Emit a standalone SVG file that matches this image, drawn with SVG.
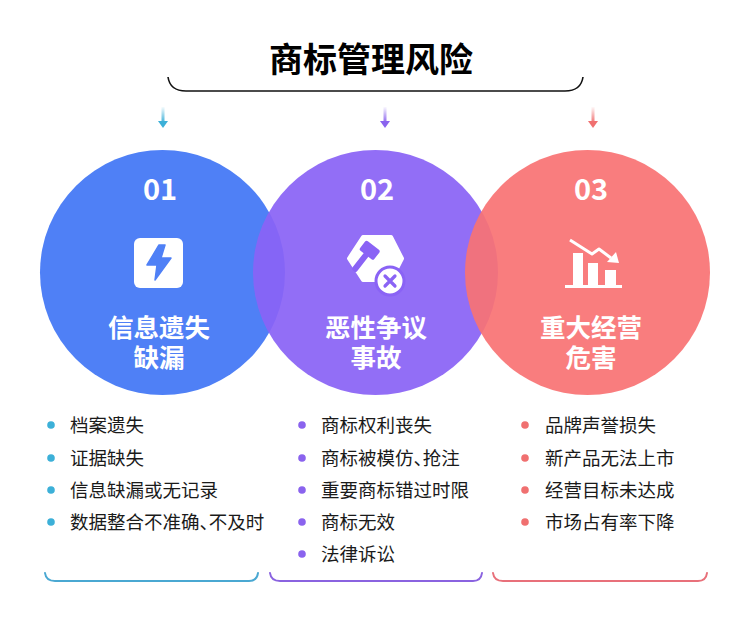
<svg xmlns="http://www.w3.org/2000/svg" width="750" height="621" viewBox="0 0 750 621">
<defs>
<style>
.cjk{font-family:"Noto Sans CJK SC","Noto Sans",sans-serif}
.num{font-family:"Noto Sans CJK SC","Noto Sans",sans-serif;font-weight:700;font-size:29px;fill:#fff;text-anchor:middle}
.ct{font-family:"Noto Sans CJK SC","Noto Sans",sans-serif;font-weight:700;font-size:25.5px;fill:#fff;text-anchor:middle}
.li{font-family:"Noto Sans CJK SC","Noto Sans",sans-serif;font-size:18.5px;fill:#1a1a1a}
.hp{font-feature-settings:"halt"}
.br{fill:none;stroke-width:2;stroke-linecap:round}
</style>
<linearGradient id="gc" x1="0" y1="0" x2="0" y2="1"><stop offset="0" stop-color="#3cb0d8" stop-opacity="0.05"/><stop offset="1" stop-color="#3cb0d8"/></linearGradient>
<linearGradient id="gp" x1="0" y1="0" x2="0" y2="1"><stop offset="0" stop-color="#8a63ee" stop-opacity="0.05"/><stop offset="1" stop-color="#8a63ee"/></linearGradient>
<linearGradient id="gr" x1="0" y1="0" x2="0" y2="1"><stop offset="0" stop-color="#f07070" stop-opacity="0.05"/><stop offset="1" stop-color="#f07070"/></linearGradient>
</defs>
<rect width="750" height="621" fill="#fff"/>

<g id="title">
<text x="371" y="72" class="cjk" font-size="34" font-weight="700" text-anchor="middle" fill="#000">商标管理风险</text>
<path d="M168,77 Q170,91 186,91 L565,91 Q581,91 583,77" fill="none" stroke="#111" stroke-width="1.6"/>
</g>

<g id="connectors">
<rect x="161.5" y="107" width="3" height="16" fill="url(#gc)"/>
<path d="M158,121 L168,121 L163,128 Z" fill="#3cb0d8"/>
<rect x="383.5" y="107" width="3" height="16" fill="url(#gp)"/>
<path d="M380,121 L390,121 L385,128 Z" fill="#8a63ee"/>
<rect x="591.5" y="107" width="3" height="16" fill="url(#gr)"/>
<path d="M588,121 L598,121 L593,128 Z" fill="#f07070"/>
</g>

<g id="node1">
<circle cx="162.5" cy="272.5" r="122.5" fill="#4f80f6"/>
<text x="160" y="200" class="num">01</text>
<rect x="134" y="238" width="49" height="50" rx="6" fill="#fff"/>
<path d="M159,245 L147,265 L157,265 L155,280 L171,258 L161,258 L165,245 Z" fill="#4f80f6" stroke="#4f80f6" stroke-width="1.5" stroke-linejoin="round"/>
<text class="ct"><tspan x="159" y="337">信息遗失</tspan><tspan x="159" y="367">缺漏</tspan></text>
</g>

<g id="node2">
<circle cx="375.5" cy="272.5" r="122.5" fill="#8a63f5" fill-opacity="0.93"/>
<text x="377" y="200" class="num">02</text>
<path d="M363,237 L391,237 L402,258.5 L391,280 L363,280 L349,258.5 Z" fill="#fff" stroke="#fff" stroke-width="4" stroke-linejoin="round"/>
<g transform="rotate(38 366 255)" fill="#8a63f5">
<rect x="357" y="243" width="18" height="12" rx="2"/>
<rect x="363" y="253" width="6" height="22" rx="2"/>
</g>
<circle cx="390" cy="281" r="14" fill="#fff" stroke="#8a63f5" stroke-width="3"/>
<path d="M385,276 L395,286 M395,276 L385,286" stroke="#8a63f5" stroke-width="3.2" stroke-linecap="round"/>
<text class="ct"><tspan x="376" y="337">恶性争议</tspan><tspan x="376" y="367">事故</tspan></text>
</g>

<g id="node3">
<circle cx="587.5" cy="272.5" r="122.5" fill="#f87273" fill-opacity="0.92"/>
<text x="591" y="200" class="num">03</text>
<g fill="#fff">
<rect x="573" y="253" width="10" height="34"/>
<rect x="588" y="263" width="10" height="24"/>
<rect x="605" y="270" width="11" height="17"/>
<rect x="565" y="285" width="57" height="3"/>
</g>
<path d="M570,240 L592,254 L599,249 L611,258" fill="none" stroke="#fff" stroke-width="3" stroke-linejoin="round"/>
<path d="M607,262 L619,263 L616,252 Z" fill="#fff"/>
<text class="ct"><tspan x="591" y="337">重大经营</tspan><tspan x="591" y="367">危害</tspan></text>
</g>

<g id="list1">
<g fill="#3cb0d8">
<circle cx="51" cy="425" r="3.8"/><circle cx="51" cy="458" r="3.8"/><circle cx="51" cy="490" r="3.8"/><circle cx="51" cy="522" r="3.8"/>
</g>
<text x="70" y="431.5" class="li">档案遗失</text>
<text x="70" y="464.5" class="li">证据缺失</text>
<text x="70" y="496.5" class="li">信息缺漏或无记录</text>
<text x="70" y="528.5" class="li">数据整合不准确<tspan class="hp">、</tspan>不及时</text>
<path class="br" stroke="#4aa8d2" d="M45,573 Q46,581 55,581 L249,581 Q257,581 258,573"/>
</g>

<g id="list2">
<g fill="#8a63ee">
<circle cx="302" cy="425" r="3.8"/><circle cx="302" cy="458" r="3.8"/><circle cx="302" cy="490" r="3.8"/><circle cx="302" cy="522" r="3.8"/><circle cx="302" cy="554" r="3.8"/>
</g>
<text x="321" y="431.5" class="li">商标权利丧失</text>
<text x="321" y="464.5" class="li">商标被模仿<tspan class="hp">、</tspan>抢注</text>
<text x="321" y="496.5" class="li">重要商标错过时限</text>
<text x="321" y="528.5" class="li">商标无效</text>
<text x="321" y="560.5" class="li">法律诉讼</text>
<path class="br" stroke="#8a63e0" d="M270,573 Q271,581 280,581 L473,581 Q481,581 482,573"/>
</g>

<g id="list3">
<g fill="#f07070">
<circle cx="525" cy="425" r="3.8"/><circle cx="525" cy="458" r="3.8"/><circle cx="525" cy="490" r="3.8"/><circle cx="525" cy="522" r="3.8"/>
</g>
<text x="545" y="431.5" class="li">品牌声誉损失</text>
<text x="545" y="464.5" class="li">新产品无法上市</text>
<text x="545" y="496.5" class="li">经营目标未达成</text>
<text x="545" y="528.5" class="li">市场占有率下降</text>
<path class="br" stroke="#e8707a" d="M493,573 Q494,581 503,581 L698,581 Q706,581 707,573"/>
</g>
</svg>
